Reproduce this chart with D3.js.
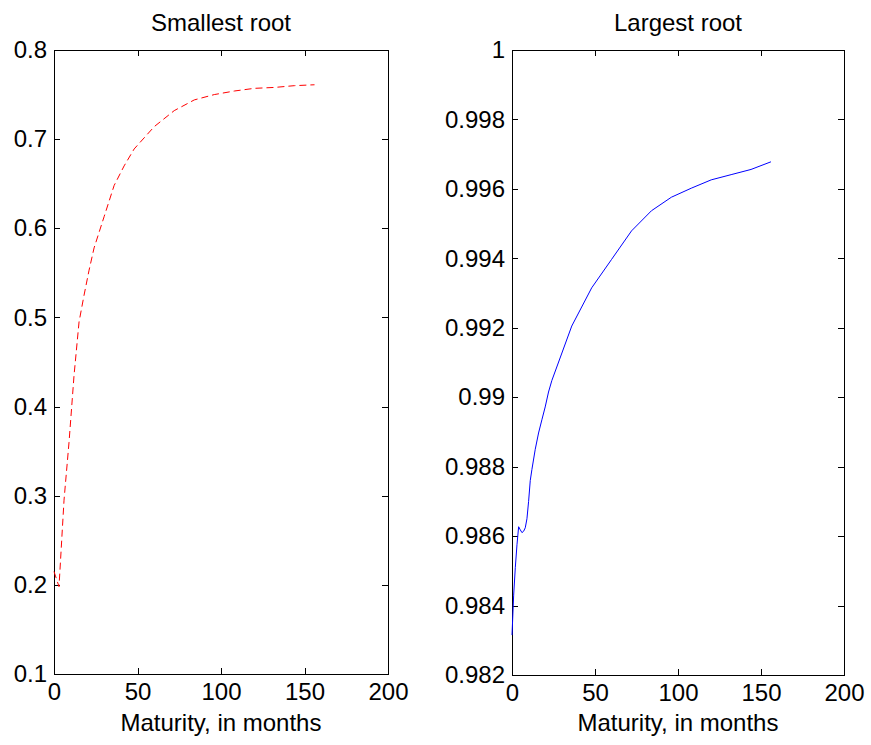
<!DOCTYPE html>
<meta charset="utf-8">
<script src="https://cdn.jsdelivr.net/npm/d3@7"></script>
<style>
body { margin: 0; background: #fff; }
svg { font-family: "Liberation Sans", Arial, sans-serif; }
.axis text { font-size: 24px; fill: #000; }
.axis path, .axis line { stroke: #000; stroke-width: 1px; shape-rendering: crispEdges; }
.title, .xlabel { font-size: 24px; fill: #000; text-anchor: middle; }
</style>
<svg width="871" height="745"></svg>
<script>

// maturities (months) and roots
var smallMaturity = [0, 3, 6, 9, 12, 15, 18, 21, 24, 30, 36, 42, 48, 60, 72, 84, 96, 108, 120, 132, 144, 156];
var smallRoot     = [0.215, 0.198, 0.295, 0.36, 0.435, 0.495, 0.525, 0.553, 0.578, 0.613, 0.648, 0.670, 0.689, 0.714, 0.732, 0.744, 0.750, 0.754, 0.757, 0.758, 0.760, 0.761];

var largeMaturity = [0, 1, 2, 3, 4, 5, 6, 7, 8, 9, 10, 11, 12, 14, 16, 18, 20, 22, 24, 36, 48, 60, 72, 84, 96, 108, 120, 132, 144, 156];
var largeRoot     = [0.98315, 0.9843, 0.9851, 0.98575, 0.98627, 0.98618, 0.98610, 0.98614, 0.98624, 0.98650, 0.98700, 0.98760, 0.98792, 0.98850, 0.98897, 0.98935, 0.98972, 0.99015, 0.99048, 0.99205, 0.99315, 0.99397, 0.99479, 0.99537, 0.99576, 0.99602, 0.99626, 0.99641, 0.99656, 0.99678];

var xTicks      = [0, 50, 100, 150, 200];
var smallYTicks = [0.1, 0.2, 0.3, 0.4, 0.5, 0.6, 0.7, 0.8];
var largeYTicks = [0.982, 0.984, 0.986, 0.988, 0.99, 0.992, 0.994, 0.996, 0.998, 1];

var svg = d3.select("svg");
var fmt = d3.format("~g");

function panel(opts) {
  var x = d3.scaleLinear().domain([0, 200]).range([opts.left, opts.right]);
  var y = d3.scaleLinear().domain(opts.yDomain).range([opts.bottom, opts.top]);
  var g = svg.append("g");

  // box with inward ticks on all four sides
  g.append("g").attr("class", "axis")
      .attr("transform", "translate(0," + opts.bottom + ")")
      .call(d3.axisBottom(x).tickValues(xTicks).tickSize(-6).tickSizeOuter(0).tickPadding(9).tickFormat(fmt));
  g.append("g").attr("class", "axis")
      .attr("transform", "translate(0," + opts.top + ")")
      .call(d3.axisTop(x).tickValues(xTicks).tickSize(-6).tickSizeOuter(0).tickFormat(""));
  g.append("g").attr("class", "axis")
      .attr("transform", "translate(" + opts.left + ",0)")
      .call(d3.axisLeft(y).tickValues(opts.yTicks).tickSize(-6).tickSizeOuter(0).tickPadding(7).tickFormat(fmt));
  g.append("g").attr("class", "axis")
      .attr("transform", "translate(" + opts.right + ",0)")
      .call(d3.axisRight(y).tickValues(opts.yTicks).tickSize(-6).tickSizeOuter(0).tickFormat(""));

  var line = d3.line()
      .x(function(d) { return x(d[0]); })
      .y(function(d) { return y(d[1]); });

  g.append("path")
      .datum(d3.zip(opts.xs, opts.ys))
      .attr("fill", "none")
      .attr("stroke", opts.color)
      .attr("stroke-width", 1)
      .attr("stroke-dasharray", opts.dash || null)
      .attr("d", line);

  g.append("text").attr("class", "title")
      .attr("x", (opts.left + opts.right) / 2).attr("y", 31)
      .text(opts.title);
  g.append("text").attr("class", "xlabel")
      .attr("x", (opts.left + opts.right) / 2).attr("y", 731)
      .text("Maturity, in months");
}

panel({
  left: 54, right: 388, top: 50, bottom: 674,
  yDomain: [0.1, 0.8], yTicks: smallYTicks,
  xs: smallMaturity, ys: smallRoot,
  color: "#ff0000", dash: "7,4",
  title: "Smallest root"
});

panel({
  left: 512, right: 844, top: 50, bottom: 675,
  yDomain: [0.982, 1], yTicks: largeYTicks,
  xs: largeMaturity, ys: largeRoot,
  color: "#0000ff",
  title: "Largest root"
});

</script>
